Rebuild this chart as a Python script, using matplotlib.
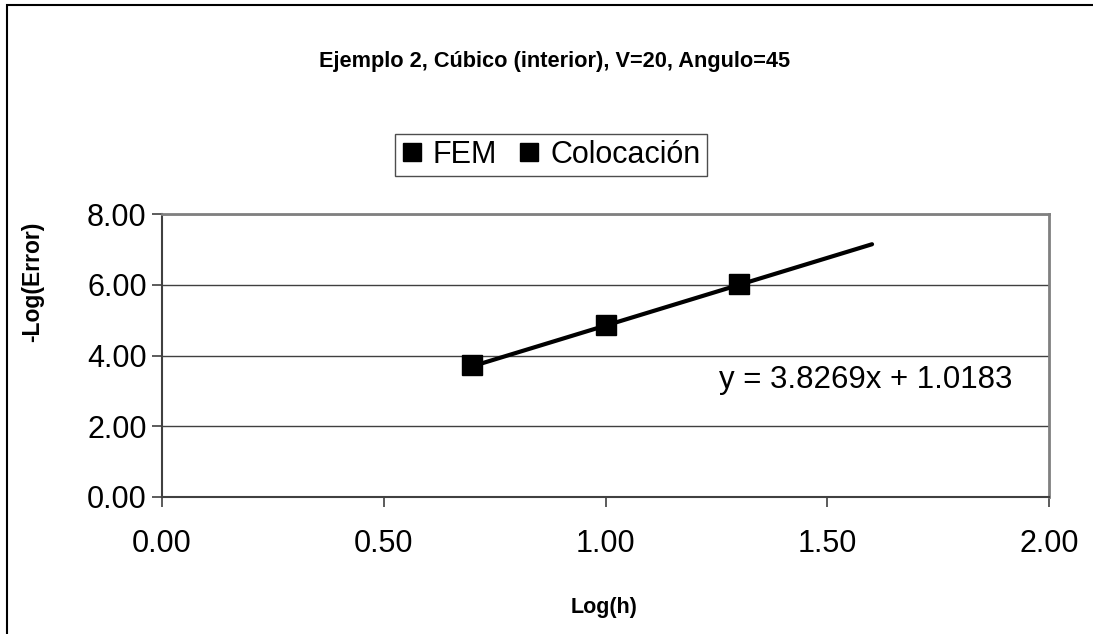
import numpy as np
import matplotlib.pyplot as plt
from matplotlib.patches import Rectangle

plt.rcParams['font.family'] = ['Liberation Sans', 'DejaVu Sans']

# ---------- Data ----------
log_h = [0.699, 1.000, 1.301]            # Log(h)
neg_log_err = [3.72, 4.85, 6.02]          # -Log(Error), Colocación
fem_x = []                                # FEM series (no visible points)
fem_y = []
slope, intercept = 3.8269, 1.0183         # linear trendline shown on chart
trend_forward = 0.3

xticks = [0.0, 0.5, 1.0, 1.5, 2.0]
yticks = [0.0, 2.0, 4.0, 6.0, 8.0]

W, H = 1093, 634
fig = plt.figure(figsize=(W / 100, H / 100), dpi=100)
ax = fig.add_axes([162 / W, 1 - 497 / H, (1049 - 162) / W, (497 - 214) / H])

# outer chart border (only left/top visible in the crop)
fig.patches.append(Rectangle((6.5 / W, -0.1), 1.2, 1 - 5.5 / H + 0.1,
                             transform=fig.transFigure, fill=False,
                             edgecolor="black", linewidth=1.5))

# series
ax.plot(fem_x, fem_y, linestyle="none", marker="s", color="black",
        markersize=14.5, label="FEM")
ax.plot(log_h, neg_log_err, linestyle="none", marker="s", color="black",
        markersize=14.5, label="Colocación", zorder=4)

# trendline
tx = np.array([log_h[0], log_h[-1] + trend_forward])
ax.plot(tx, slope * tx + intercept, color="black", linewidth=3,
        solid_capstyle="round", zorder=3)

ax.text(1.587, 3.3, "y = 3.8269x + 1.0183", fontsize=22.5, ha="center", va="center")

# axes styling
ax.set_xlim(0, 2)
ax.set_ylim(0, 8)
ax.set_xticks(xticks)
ax.set_yticks(yticks)
ax.set_xticklabels([f"{v:.2f}" for v in xticks], fontsize=22)
ax.set_yticklabels([f"{v:.2f}" for v in yticks], fontsize=22)
ax.tick_params(direction="out", length=7, width=1.2, color="#404040")
ax.tick_params(axis="x", pad=16)
ax.tick_params(axis="y", pad=4)
ax.yaxis.grid(True, color="#404040", linewidth=1.0)
ax.set_axisbelow(True)
for side in ["top", "right"]:
    ax.spines[side].set_color("#808080")
    ax.spines[side].set_linewidth(2)
for side in ["left", "bottom"]:
    ax.spines[side].set_color("#404040")
    ax.spines[side].set_linewidth(1.5)

# axis titles placed like the original (y title sits above centre)
fig.text(604 / W, 1 - 607 / H, "Log(h)", fontsize=15.5, fontweight="bold",
         ha="center", va="center")
fig.text(33 / W, 1 - 282 / H, "-Log(Error)", fontsize=16.5, fontweight="bold",
         ha="center", va="center", rotation=90)

fig.text(555 / W, 1 - 61 / H, "Ejemplo 2, Cúbico (interior), V=20, Angulo=45",
         fontsize=15.7, fontweight="bold", ha="center", va="center")

leg = fig.legend(loc="center", bbox_to_anchor=(551 / W, 1 - 155 / H),
                 ncol=2, fontsize=22, frameon=True, fancybox=False,
                 handlelength=0.7, handletextpad=0.35, columnspacing=0.7,
                 borderpad=0.2, markerscale=0.9)
leg.get_frame().set_edgecolor("#202020")
leg.get_frame().set_linewidth(1.0)

plt.savefig("out.png", dpi=100)
